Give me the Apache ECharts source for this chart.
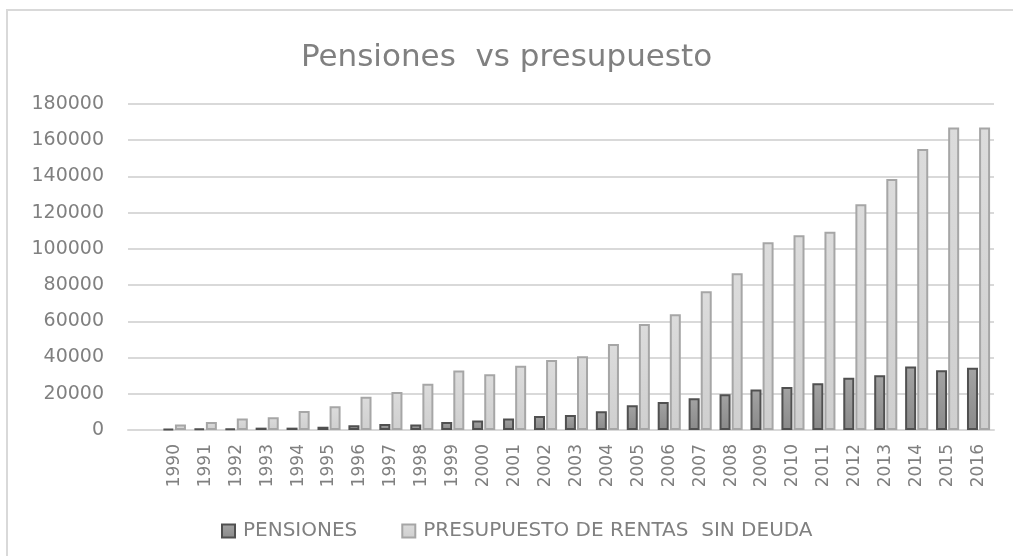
<!DOCTYPE html>
<html>
<head>
<meta charset="utf-8">
<script src="https://cdn.jsdelivr.net/npm/echarts@6/dist/echarts.min.js"></script>
<style>
  html, body { margin: 0; padding: 0; background: #fff; }
  #chart { width: 1013px; height: 556px; }
</style>
</head>
<body>
<div id="chart"></div>
<script>
// categorías (la primera está vacía en el gráfico original)
var years = ['', '1990', '1991', '1992', '1993', '1994', '1995', '1996', '1997', '1998', '1999',
  '2000', '2001', '2002', '2003', '2004', '2005', '2006', '2007', '2008', '2009',
  '2010', '2011', '2012', '2013', '2014', '2015', '2016'];

var pensiones = [null, 600, 700, 700, 1300, 1300, 1800, 2600, 3300, 3100, 4400,
  5200, 6400, 7700, 8300, 10300, 13600, 15500, 17500, 19700, 22300,
  23700, 25800, 28900, 30200, 35000, 33000, 34400];

var presupuesto = [null, 3100, 4400, 6300, 7000, 10500, 13100, 18400, 21000, 25600, 32800,
  30800, 35500, 38700, 40700, 47500, 58500, 63900, 76600, 86500, 103600,
  107500, 109500, 124600, 138600, 155200, 167000, 167000];

var seriesNames = ['PENSIONES', 'PRESUPUESTO DE RENTAS  SIN DEUDA'];

var txtColor = '#808080';
var gridColor = '#d9d9d9';

var chart = echarts.init(document.getElementById('chart'));

chart.setOption({
  animation: false,
  title: {
    text: 'Pensiones  vs presupuesto',
    left: 'center',
    top: 37,
    textStyle: {
      fontFamily: 'DejaVu Sans',
      fontWeight: 'normal',
      fontSize: 31,
      color: txtColor
    }
  },
  // marco del gráfico
  graphic: [{
    type: 'rect',
    shape: { x: 7, y: 10, width: 1030, height: 580 },
    style: { fill: 'none', stroke: gridColor, lineWidth: 2 },
    silent: true
  }],
  legend: {
    data: seriesNames,
    left: 216,
    top: 516,
    icon: 'rect',
    itemWidth: 13,
    itemHeight: 13,
    itemGap: 44,
    textStyle: {
      fontFamily: 'DejaVu Sans',
      fontSize: 20,
      color: txtColor,
      padding: [0, 0, 0, 3]
    }
  },
  grid: {
    left: 128,
    right: 19,
    top: 104,
    bottom: 126
  },
  xAxis: {
    type: 'category',
    data: years,
    axisLine: { show: true, lineStyle: { color: gridColor, width: 2 } },
    axisTick: { show: false },
    axisLabel: {
      rotate: 90,
      margin: 14,
      interval: 0,
      fontFamily: 'DejaVu Sans',
      fontSize: 17,
      color: txtColor
    }
  },
  yAxis: {
    type: 'value',
    min: 0,
    max: 180000,
    interval: 20000,
    axisLine: { show: false },
    axisTick: { show: false },
    splitLine: { lineStyle: { color: gridColor, width: 2 } },
    axisLabel: {
      margin: 24,
      fontFamily: 'DejaVu Sans',
      fontSize: 19,
      color: txtColor,
      formatter: function (v) { return String(v); }
    }
  },
  series: [{
    name: seriesNames[0],
    type: 'bar',
    data: pensiones,
    barWidth: 11,
    barGap: '10%',
    itemStyle: {
      color: new echarts.graphic.LinearGradient(0, 0, 0, 1, [
        { offset: 0, color: '#a3a3a3' },
        { offset: 1, color: '#8a8a8a' }
      ]),
      borderColor: '#505050',
      borderWidth: 2
    }
  }, {
    name: seriesNames[1],
    type: 'bar',
    data: presupuesto,
    barWidth: 11,
    itemStyle: {
      color: new echarts.graphic.LinearGradient(0, 0, 0, 1, [
        { offset: 0, color: '#dcdcdc' },
        { offset: 1, color: '#cfcfcf' }
      ]),
      borderColor: '#a6a6a6',
      borderWidth: 2
    }
  }]
});
</script>
</body>
</html>
